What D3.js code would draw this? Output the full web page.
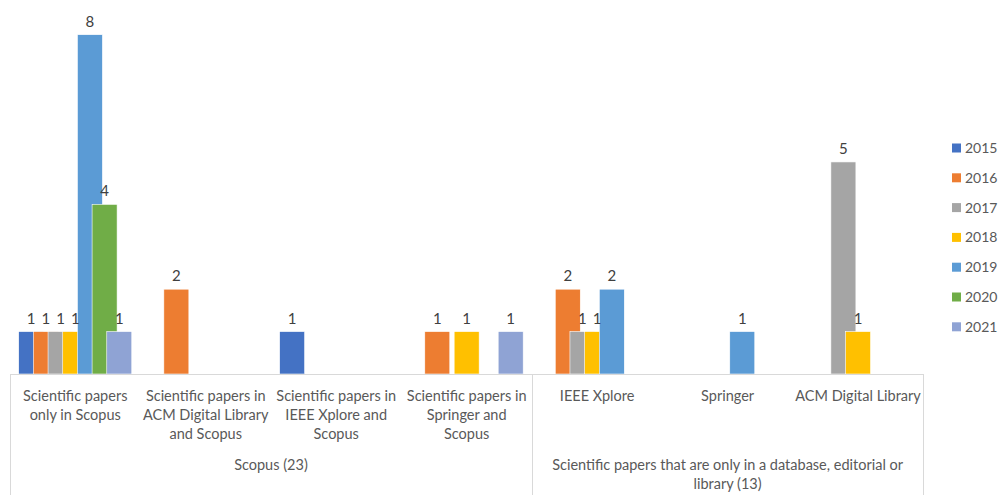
<!DOCTYPE html>
<html>
<head>
<meta charset="utf-8">
<script src="https://cdn.jsdelivr.net/npm/d3@7"></script>
<style>
  body { margin: 0; background: #fff; }
  svg { display: block; font-family: Lato, "Open Sans", sans-serif; }
</style>
</head>
<body>
<div class="js-chart"></div>
<script>
var years = ['2015', '2016', '2017', '2018', '2019', '2020', '2021'];
var categories = ['only-scopus', 'acm-scopus', 'ieee-scopus', 'springer-scopus', 'ieee', 'springer', 'acm'];
var categoryLines = [
  ['Scientific papers', 'only in Scopus'],
  ['Scientific papers in', 'ACM Digital Library', 'and Scopus'],
  ['Scientific papers in', 'IEEE Xplore and', 'Scopus'],
  ['Scientific papers in', 'Springer and', 'Scopus'],
  ['IEEE Xplore'],
  ['Springer'],
  ['ACM Digital Library']
];
var groups = ['Scopus (23)', 'Scientific papers that are only in a database, editorial or library (13)'];
var groupLines = [
  ['Scopus (23)'],
  ['Scientific papers that are only in a database, editorial or', 'library (13)']
];
var groupSizes = [4, 3];
// one row per year, one value per category (null = no bar)
var values2015 = [1, null, 1, null, null, null, null];
var values2016 = [1, 2, null, 1, 2, null, null];
var values2017 = [1, null, null, null, 1, null, 5];
var values2018 = [1, null, null, 1, 1, null, 1];
var values2019 = [8, null, null, null, 2, 1, null];
var values2020 = [4, null, null, null, null, null, null];
var values2021 = [1, null, null, 1, null, null, null];
var colors = ['#4472C4', '#ED7D31', '#A5A5A5', '#FFC000', '#5B9BD5', '#70AD47', '#8FA3D4'];

(function() {
  var width = 1000
    , height = 495
    , axisY = 374
    , left = 10
    , right = 923.3
    , series = [values2015, values2016, values2017, values2018, values2019, values2020, values2021]
    ;

  var svg = d3.select('.js-chart')
      .append('svg')
        .attr('width', width)
        .attr('height', height);

  var x0 = d3.scaleBand()
      .domain(categories)
      .range([left, right])
      .padding(0);

  var bw = x0.bandwidth()
    , barW = bw * 0.1917
    , step = bw * 0.1125
    , x1 = d3.scalePoint()
        .domain(years)
        .range([-(6 * step + barW) / 2, -(6 * step + barW) / 2 + 6 * step])
    ;

  var y = d3.scaleLinear()
      .domain([0, 8])
      .range([axisY, 34.7]);

  var bars = [];
  series.forEach(function(vals, si) {
    vals.forEach(function(v, ci) {
      if (v != null) bars.push({ year: years[si], cat: categories[ci], value: v, si: si });
    });
  });

  var xBar = d => x0(d.cat) + bw / 2 + x1(d.year);

  svg.append('g').attr('class', 'bars')
    .selectAll('rect')
    .data(bars)
    .enter()
    .append('rect')
      .attr('x', xBar)
      .attr('y', d => y(d.value))
      .attr('width', barW)
      .attr('height', d => y(0) - y(d.value))
      .attr('fill', d => colors[d.si])
      .attr('stroke', '#fff')
      .attr('stroke-width', 0.6);

  svg.append('g').attr('class', 'labels')
    .attr('font-size', 15)
    .attr('fill', '#404040')
    .attr('text-anchor', 'middle')
    .selectAll('text')
    .data(bars)
    .enter()
    .append('text')
      .attr('x', d => xBar(d) + barW / 2)
      .attr('y', d => y(d.value) - 8)
      .text(d => d.value);

  // category axis
  var gAxis = svg.append('g')
      .attr('stroke', '#D9D9D9')
      .attr('stroke-width', 1);

  gAxis.append('line')
    .attr('x1', left).attr('x2', right)
    .attr('y1', axisY + 0.5).attr('y2', axisY + 0.5);

  var bounds = [0];
  groupSizes.forEach(function(n, i) { bounds.push(bounds[i] + n); });
  var boundX = bounds.map(b => b < categories.length ? x0(categories[b]) : right);

  gAxis.selectAll('line.div')
    .data(boundX)
    .enter()
    .append('line')
      .attr('class', 'div')
      .attr('x1', d => Math.round(d) + 0.5).attr('x2', d => Math.round(d) + 0.5)
      .attr('y1', axisY).attr('y2', height);

  var gCat = svg.append('g')
      .attr('font-size', 14.5)
      .attr('fill', '#595959')
      .attr('text-anchor', 'middle');

  gCat.selectAll('text')
    .data(categories)
    .enter()
    .append('text')
      .attr('transform', d => 'translate(' + (x0(d) + bw / 2) + ',401)')
      .each(function(d, i) {
        var t = d3.select(this);
        categoryLines[i].forEach(function(line, li) {
          t.append('tspan').attr('x', 0).attr('y', li * 19).text(line);
        });
      });

  gCat.selectAll('text.group')
    .data(groups)
    .enter()
    .append('text')
      .attr('class', 'group')
      .attr('transform', (d, i) => 'translate(' + ((boundX[i] + boundX[i + 1]) / 2) + ',470)')
      .each(function(d, i) {
        var t = d3.select(this);
        groupLines[i].forEach(function(line, li) {
          t.append('tspan').attr('x', 0).attr('y', li * 19).text(line);
        });
      });

  // legend
  var gKey = svg.append('g')
      .attr('transform', 'translate(952,148)');

  var keys = gKey.selectAll('g')
    .data(years)
    .enter()
    .append('g')
      .attr('transform', (d, i) => 'translate(0,' + i * 29.8 + ')');

  keys.append('rect')
    .attr('x', 0).attr('y', -4.5)
    .attr('width', 9).attr('height', 9)
    .attr('fill', (d, i) => colors[i]);

  keys.append('text')
    .attr('x', 13)
    .attr('y', 5)
    .attr('font-size', 14)
    .attr('fill', '#595959')
    .text(d => d);
})();
</script>
</body>
</html>
